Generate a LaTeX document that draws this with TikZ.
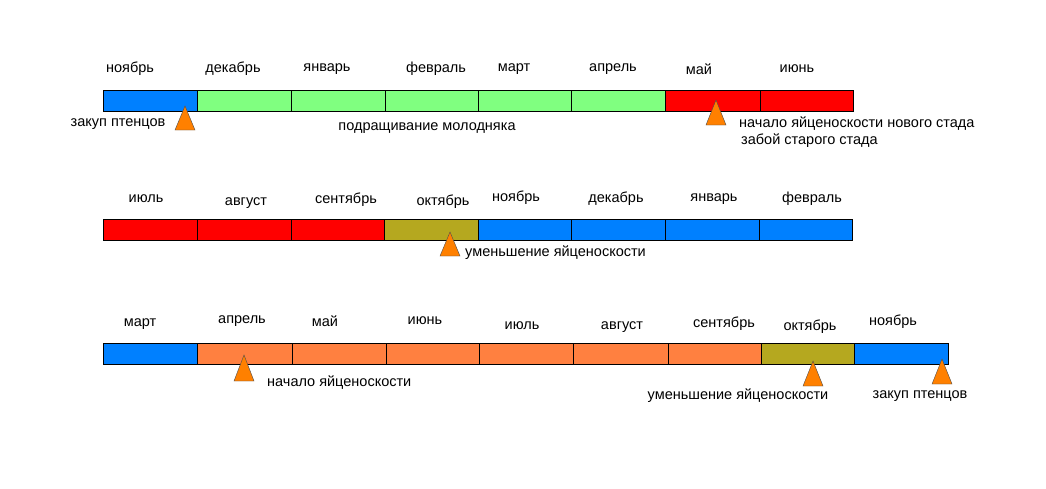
\documentclass[tikz,border=0pt]{standalone}
\usepackage{fontspec}
\setmainfont{Liberation Sans}
\definecolor{cblue}{RGB}{0,128,255}
\definecolor{cgreen}{RGB}{128,255,128}
\definecolor{cred}{RGB}{255,0,0}
\definecolor{colive}{RGB}{181,168,31}
\definecolor{ccoral}{RGB}{255,128,64}
\definecolor{corange}{RGB}{255,128,0}
\begin{document}
\begin{tikzpicture}[x=1pt,y=-1pt,
  seg/.style={draw=black,line width=0.9pt,inner sep=0pt,outer sep=0pt},
  lbl/.style={inner sep=0pt,font=\fontsize{14.5}{17}\selectfont},
  tri/.style={fill=corange,draw=black!70,line width=0.4pt,line join=miter}]
\useasboundingbox (0,0) rectangle (1046,488);
\fill[white] (0,0) rectangle (1046,488);

% row 1
\foreach \a/\b/\c [count=\i] in {103/197/cblue,197/291/cgreen,291/385/cgreen,385/478/cgreen,478/571/cgreen,571/665/cgreen,665/760/cred,760/853/cred}
  \node[seg,fill=\c,minimum width={(\b-\a)*1pt},minimum height=21pt] (ra\i) at ({(\a+\b)/2},100.5) {};
\foreach \t/\x in {ноябрь/130,декабрь/233,январь/327,февраль/436,март/514,апрель/613,май/699,июнь/797}
  \node[lbl] (la\x) at (\x,69) {\t};
\draw[tri] (185,106) -- (175,130) -- (195,130) -- cycle;
\node[lbl] (ta1) at (118,124) {закуп птенцов};
\node[lbl] (ta2) at (427,128) {подращивание молодняка};
\draw[tri] (716,100) -- (706,125) -- (726,125) -- cycle;
\node[lbl,anchor=west] (ta3) at (739,124) {начало яйценоскости нового стада};
\node[lbl,anchor=west] (ta4) at (741,141) {забой старого стада};

% row 2
\foreach \a/\b/\c [count=\i] in {103/197/cred,197/291/cred,291/384/cred,384/478/colive,478/571/cblue,571/665/cblue,665/759/cblue,759/852/cblue}
  \node[seg,fill=\c,minimum width={(\b-\a)*1pt},minimum height=21pt] (rb\i) at ({(\a+\b)/2},229.5) {};
\foreach \t/\x/\y in {июль/146/199,август/246/203,сентябрь/346/200,октябрь/443/202,ноябрь/516/198,декабрь/616/199,январь/714/199,февраль/812/199}
  \node[lbl] (lb\x) at (\x,\y) {\t};
\draw[tri] (450,232) -- (440,256) -- (460,256) -- cycle;
\node[lbl,anchor=west] (tb1) at (465,253) {уменьшение яйценоскости};

% row 3
\foreach \a/\b/\c [count=\i] in {103/197/cblue,197/292/ccoral,292/386/ccoral,386/479/ccoral,479/573/ccoral,573/668/ccoral,668/761/ccoral,761/854/colive,854/948/cblue}
  \node[seg,fill=\c,minimum width={(\b-\a)*1pt},minimum height=21pt] (rc\i) at ({(\a+\b)/2},353.5) {};
\foreach \t/\x/\y in {март/140/324,апрель/242/321,май/325/321,июнь/425/321,июль/522/326,август/622/327,сентябрь/724/324,октябрь/810/327,ноябрь/893/322}
  \node[lbl] (lc\x) at (\x,\y) {\t};
\draw[tri] (244,355) -- (234,381) -- (254,381) -- cycle;
\node[lbl,anchor=west] (tc1) at (267,383) {начало яйценоскости};
\draw[tri] (813,361) -- (803,386) -- (823,386) -- cycle;
\node[lbl] (tc2) at (738,396) {уменьшение яйценоскости};
\draw[tri] (942,359) -- (932,384) -- (952,384) -- cycle;
\node[lbl] (tc3) at (920,396) {закуп птенцов};
\end{tikzpicture}
\end{document}
